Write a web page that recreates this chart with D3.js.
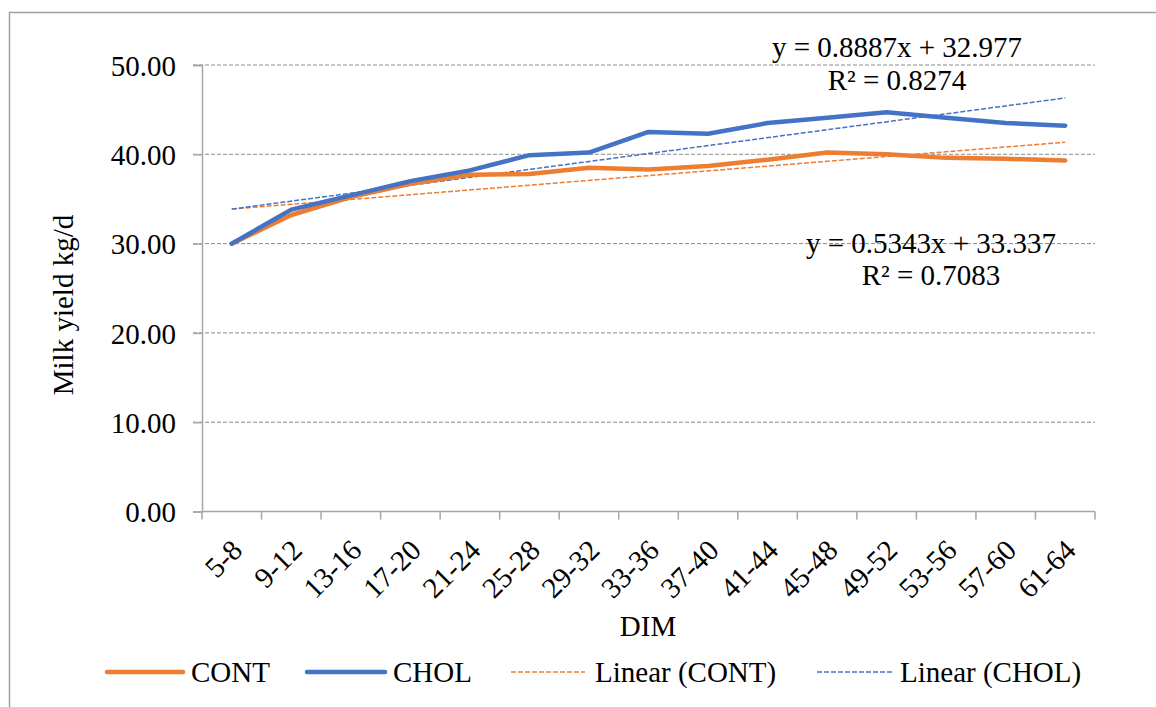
<!DOCTYPE html>
<html lang="en">
<head>
  <meta charset="UTF-8">
  <title>Milk yield by DIM</title>
  <script src="https://d3js.org/d3.v7.min.js"></script>
  <style>
    body {
      margin: 0;
      background: #fff;
    }
    svg text {
      font-family: "Liberation Serif", "Times New Roman", serif;
      fill: #000;
    }
  </style>
</head>
<body>
<svg width="1156" height="707"></svg>

<script>
  // chart data
  const categories = ["5-8", "9-12", "13-16", "17-20", "21-24", "25-28", "29-32", "33-36",
    "37-40", "41-44", "45-48", "49-52", "53-56", "57-60", "61-64"];
  const cont = [30.0, 33.2, 35.2, 36.7, 37.7, 37.8, 38.5, 38.3, 38.7, 39.4, 40.2, 40.0, 39.6, 39.5, 39.3];
  const chol = [30.0, 33.8, 35.4, 37.0, 38.2, 39.9, 40.2, 42.5, 42.3, 43.5, 44.1, 44.7, 44.1, 43.5, 43.2];
  const yTicks = [0, 10, 20, 30, 40, 50];

  // trendline equations as printed on the chart
  const trendCont = {slope: 0.5343, intercept: 33.337, label: ["y = 0.5343x + 33.337", "R² = 0.7083"]};
  const trendChol = {slope: 0.8887, intercept: 32.977, label: ["y = 0.8887x + 32.977", "R² = 0.8274"]};

  const orange = "#ED7D31";
  const blue = "#4472C4";
  const axisGray = "#a6a6a6";
  const fontSize = "29px";
  const serif = "'Liberation Serif', 'Times New Roman', serif";

  const svg = d3.select("svg");

  // outer chart border (top and left visible)
  svg.append("path")
    .attr("d", "M9.5,707 V12.5 H1156")
    .attr("fill", "none")
    .attr("stroke", "#a0a0a0")
    .attr("stroke-width", 1.5);

  const x = d3.scaleBand()
    .domain(categories)
    .range([202, 1095]);

  const y = d3.scaleLinear()
    .domain([0, 50])
    .range([511.5, 65]);

  const cx = c => x(c) + x.bandwidth() / 2;

  // gridlines
  svg.append("g")
    .selectAll("line")
    .data(yTicks.filter(d => d > 0))
    .enter()
    .append("line")
    .attr("x1", 193)
    .attr("x2", 1095)
    .attr("y1", d => y(d))
    .attr("y2", d => y(d))
    .attr("stroke", "#8c8c8c")
    .attr("stroke-width", 1)
    .attr("stroke-dasharray", "4,2");

  // y axis
  const yAxis = svg.append("g")
    .attr("transform", "translate(202,0)")
    .call(d3.axisLeft(y).tickValues(yTicks).tickSize(9).tickPadding(17).tickFormat(d3.format(".2f")));
  yAxis.attr("font-family", serif);
  yAxis.select(".domain").attr("stroke", axisGray).attr("stroke-width", 1.5);
  yAxis.selectAll(".tick line").attr("stroke", axisGray).attr("stroke-width", 1.5);
  yAxis.selectAll(".tick text")
    .attr("font-size", fontSize)
    .attr("font-family", serif)
    .attr("dy", "0.35em");

  // x axis: ticks at category boundaries
  const xAxis = svg.append("g");
  xAxis.append("line")
    .attr("x1", 202).attr("x2", 1095)
    .attr("y1", y(0)).attr("y2", y(0))
    .attr("stroke", axisGray).attr("stroke-width", 1.5);
  xAxis.selectAll(".xtick")
    .data(categories.concat(["end"]))
    .enter()
    .append("line")
    .attr("class", "xtick")
    .attr("x1", (d, i) => i < categories.length ? x(d) : x.range()[1])
    .attr("x2", (d, i) => i < categories.length ? x(d) : x.range()[1])
    .attr("y1", y(0))
    .attr("y2", y(0) + 8)
    .attr("stroke", axisGray).attr("stroke-width", 1.5);

  xAxis.selectAll(".xlabel")
    .data(categories)
    .enter()
    .append("text")
    .attr("class", "xlabel")
    .attr("font-size", fontSize)
    .attr("font-family", serif)
    .attr("text-anchor", "end")
    .attr("dy", "0.7em")
    .attr("transform", d => `translate(${cx(d) - 2},${y(0) + 26}) rotate(-45)`)
    .text(d => d);

  // axis titles
  svg.append("text")
    .attr("x", 648)
    .attr("y", 636)
    .attr("text-anchor", "middle")
    .attr("font-size", fontSize)
    .attr("font-family", serif)
    .text("DIM");

  svg.append("text")
    .attr("transform", "translate(73,305) rotate(-90)")
    .attr("text-anchor", "middle")
    .attr("font-size", fontSize)
    .attr("font-family", serif)
    .text("Milk yield kg/d");

  // trendlines from the printed equations (x = 1..n)
  const trendLine = d3.line()
    .x(d => cx(d.c))
    .y(d => y(d.v));

  function trendPoints(t) {
    const first = categories[0], last = categories[categories.length - 1];
    return [
      {c: first, v: t.slope * 1 + t.intercept},
      {c: last, v: t.slope * categories.length + t.intercept}
    ];
  }

  svg.append("path")
    .datum(trendPoints(trendCont))
    .attr("d", trendLine)
    .attr("fill", "none")
    .attr("stroke", orange)
    .attr("stroke-width", 1.5)
    .attr("stroke-dasharray", "5,2");

  svg.append("path")
    .datum(trendPoints(trendChol))
    .attr("d", trendLine)
    .attr("fill", "none")
    .attr("stroke", blue)
    .attr("stroke-width", 1.5)
    .attr("stroke-dasharray", "5,2");

  // series lines
  const line = d3.line()
    .x((d, i) => cx(categories[i]))
    .y(d => y(d));

  svg.append("path")
    .datum(cont)
    .attr("d", line)
    .attr("fill", "none")
    .attr("stroke", orange)
    .attr("stroke-width", 4.5)
    .attr("stroke-linejoin", "round")
    .attr("stroke-linecap", "round");

  svg.append("path")
    .datum(chol)
    .attr("d", line)
    .attr("fill", "none")
    .attr("stroke", blue)
    .attr("stroke-width", 4.5)
    .attr("stroke-linejoin", "round")
    .attr("stroke-linecap", "round");

  // trendline equation labels
  function eqLabel(t, xc, y1, y2) {
    svg.append("text")
      .attr("x", xc).attr("y", y1)
      .attr("text-anchor", "middle")
      .attr("font-size", fontSize)
      .attr("font-family", serif)
      .text(t.label[0]);
    svg.append("text")
      .attr("x", xc).attr("y", y2)
      .attr("text-anchor", "middle")
      .attr("font-size", fontSize)
      .attr("font-family", serif)
      .text(t.label[1]);
  }
  eqLabel(trendChol, 897, 57, 90);
  eqLabel(trendCont, 931, 253, 285);

  // legend
  const legendItems = [
    {name: "CONT", color: orange, width: 4.5, dash: null, x1: 107, x2: 183, tx: 191},
    {name: "CHOL", color: blue, width: 4.5, dash: null, x1: 307, x2: 385, tx: 393},
    {name: "Linear (CONT)", color: orange, width: 1.5, dash: "5,2", x1: 511, x2: 585, tx: 595},
    {name: "Linear (CHOL)", color: blue, width: 1.5, dash: "5,2", x1: 817, x2: 893, tx: 900}
  ];

  const legend = svg.append("g");
  legend.selectAll("line")
    .data(legendItems)
    .enter()
    .append("line")
    .attr("x1", d => d.x1)
    .attr("x2", d => d.x2)
    .attr("y1", 672)
    .attr("y2", 672)
    .attr("stroke", d => d.color)
    .attr("stroke-width", d => d.width)
    .attr("stroke-linecap", d => d.dash ? "butt" : "round")
    .attr("stroke-dasharray", d => d.dash);

  legend.selectAll("text")
    .data(legendItems)
    .enter()
    .append("text")
    .attr("x", d => d.tx)
    .attr("y", 682)
    .attr("font-size", fontSize)
    .attr("font-family", serif)
    .text(d => d.name);
</script>

</body>
</html>
